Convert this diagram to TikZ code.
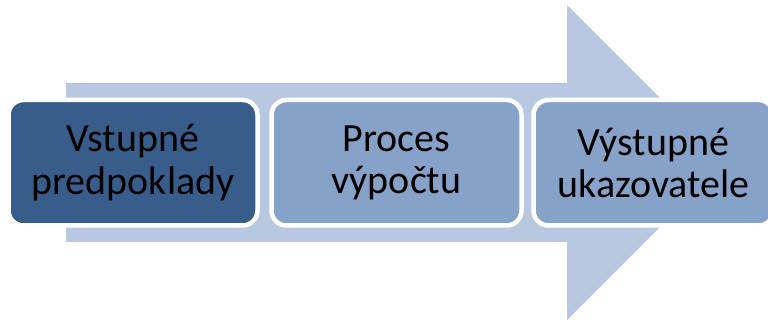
\documentclass[tikz,border=0pt]{standalone}
\usepackage{fontspec}
\setmainfont{Carlito}
\definecolor{arrowfill}{HTML}{B9C8E1}
\definecolor{darkstep}{HTML}{385D8A}
\definecolor{lightstep}{HTML}{87A2C8}
\begin{document}
\begin{tikzpicture}[x=1pt,y=-1pt,
  stepbox/.style={draw=white,line width=4.5pt,rounded corners=15pt,
    inner sep=0pt,outer sep=0pt,align=center,text=black,
    minimum height=125.5pt,
    font=\fontsize{40}{42.5}\selectfont},
  ]
  \useasboundingbox (0,0) rectangle (768,320);
  % background block arrow
  \fill[arrowfill] (66,83) -- (567,83) -- (567,5) -- (724.5,162.5)
    -- (567,320) -- (567,242) -- (66,242) -- cycle;
  % the three stages
  \node (a) at (133,162.75) [stepbox,fill=darkstep,minimum width=249pt]
    {Vstupné\\predpoklady};
  \node (b) at (396.5,162.75) [stepbox,fill=lightstep,minimum width=250pt]
    {Proces\\výpočtu};
  \node (c) at (653.5,162.75) [stepbox,fill=lightstep,minimum width=240pt]
    {Výstupné\\ukazovatele};
\end{tikzpicture}
\end{document}
